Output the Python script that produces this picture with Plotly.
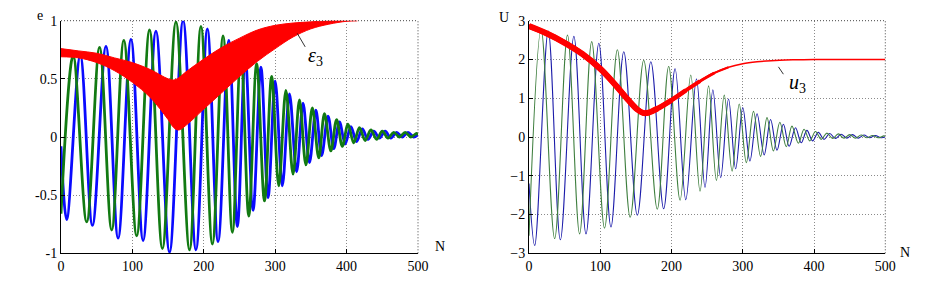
import plotly.graph_objects as go

# ---------------- data ----------------
# extrema positions (N) of the green and blue oscillating signals
green_N = [0, 17, 36, 54, 71, 88, 106, 124, 142, 161,
           180, 196, 212, 227, 240, 252, 263, 274, 285, 295,
           305, 315, 325, 334, 343, 352, 361, 369, 378, 386,
           394, 402, 410, 418, 426, 434, 442, 450, 458, 466,
           474, 482, 490, 498, 500]
blue_N = [0, 8, 27, 44, 63, 80, 98, 115, 133, 152,
          171, 189, 205, 220, 235, 247, 258, 269, 280, 290,
          300, 310, 320, 330, 339, 348, 357, 365, 374, 382,
          390, 398, 406, 414, 422, 430, 438, 446, 454, 462,
          470, 478, 486, 494, 500]

# left panel (e)
e_green = [-0.66, 0.70, -0.73, 0.77, -0.80, 0.83, -0.85, 0.92, -0.96, 0.99,
           -0.97, 0.95, -0.92, 0.87, -0.82, 0.75, -0.68, 0.63, -0.55, 0.52,
           -0.42, 0.40, -0.32, 0.32, -0.24, 0.25, -0.18, 0.20, -0.12, 0.15,
           -0.08, 0.11, -0.05, 0.08, -0.03, 0.06, -0.02, 0.05, -0.01, 0.04,
           0.00, 0.04, 0.00, 0.03, 0.02]
e_blue = [-0.08, -0.71, 0.70, -0.76, 0.78, -0.87, 0.84, -0.89, 0.91, -0.99,
          1.00, -0.97, 0.93, -0.90, 0.83, -0.77, 0.70, -0.63, 0.60, -0.52,
          0.48, -0.42, 0.37, -0.30, 0.29, -0.22, 0.23, -0.16, 0.18, -0.10,
          0.13, -0.06, 0.09, -0.04, 0.07, -0.02, 0.05, -0.01, 0.05, -0.01,
          0.04, 0.00, 0.04, 0.00, 0.02]

# epsilon_3 band (upper / lower edge)
band_N = [0, 25, 50, 75, 100, 125, 150, 158, 165, 175,
          200, 225, 250, 275, 300, 325, 350, 375, 400, 415]
band_top = [0.76, 0.74, 0.72, 0.68, 0.64, 0.58, 0.50, 0.49, 0.51, 0.56,
            0.67, 0.77, 0.85, 0.92, 0.96, 0.98, 0.99, 1.00, 1.00, 1.00]
band_bottom = [0.69, 0.68, 0.64, 0.57, 0.47, 0.34, 0.15, 0.08, 0.06, 0.10,
               0.24, 0.38, 0.52, 0.65, 0.76, 0.86, 0.93, 0.97, 0.995, 1.00]

# right panel (U)
u_green = [-2.55, 2.78, -2.62, 2.63, -2.50, 2.46, -2.35, 2.25, -2.07, 1.98,
           -1.86, 1.82, -1.63, 1.60, -1.40, 1.32, -1.12, 1.08, -0.88, 0.85,
           -0.66, 0.66, -0.50, 0.50, -0.36, 0.38, -0.25, 0.28, -0.16, 0.20,
           -0.10, 0.14, -0.06, 0.10, -0.04, 0.08, -0.03, 0.06, -0.03, 0.05,
           -0.02, 0.04, -0.02, 0.03, 0.02]
u_blue = [-1.20, -2.80, 2.73, -2.65, 2.60, -2.50, 2.42, -2.32, 2.20, -2.02,
          1.94, -1.85, 1.76, -1.62, 1.50, -1.30, 1.22, -1.05, 0.98, -0.82,
          0.76, -0.62, 0.60, -0.46, 0.45, -0.34, 0.33, -0.24, 0.24, -0.15,
          0.17, -0.10, 0.12, -0.06, 0.09, -0.04, 0.07, -0.03, 0.06, -0.03,
          0.05, -0.02, 0.04, -0.02, 0.00]

u3_N = [0, 25, 50, 75, 100, 120, 140, 152, 160, 168, 180, 200,
        220, 240, 260, 280, 300, 320, 340, 370, 400, 450, 500]
u3 = [2.86, 2.67, 2.43, 2.14, 1.76, 1.37, 0.94, 0.71, 0.62, 0.63, 0.73, 0.95,
      1.20, 1.44, 1.65, 1.80, 1.89, 1.94, 1.97, 1.99, 2.00, 2.00, 2.00]

x_ticks = [0, 100, 200, 300, 400, 500]
e_ticks = [-1, -0.5, 0, 0.5, 1]
u_ticks = [-3, -2, -1, 0, 1, 2, 3]

# ---------------- figure ----------------
BLUE = "#0a0aff"
GREEN = "#127a12"
RED = "#ff0000"
FONT = "Liberation Serif, DejaVu Serif, Times New Roman, serif"
W, H, OFF = 929, 284, 8   # page body margin offsets the figure by 8 px


def px_x(p):
    return (p - OFF) / W


def px_y(p):
    return 1 - (p - OFF) / H


fig = go.Figure()

# left panel
fig.add_trace(go.Scatter(x=blue_N, y=e_blue, mode="lines", line=dict(color=BLUE, width=2.8, shape="spline"),
                         xaxis="x", yaxis="y", showlegend=False))
fig.add_trace(go.Scatter(x=green_N, y=e_green, mode="lines", line=dict(color=GREEN, width=2.8, shape="spline"),
                         xaxis="x", yaxis="y", showlegend=False))
fig.add_trace(go.Scatter(x=band_N, y=band_bottom, mode="lines", line=dict(color=RED, width=1, shape="spline"),
                         xaxis="x", yaxis="y", showlegend=False))
fig.add_trace(go.Scatter(x=band_N, y=band_top, mode="lines", line=dict(color=RED, width=1, shape="spline"),
                         fill="tonexty", fillcolor=RED, xaxis="x", yaxis="y", showlegend=False))

# right panel
fig.add_trace(go.Scatter(x=blue_N, y=u_blue, mode="lines", line=dict(color="#1c1caa", width=1.1, shape="spline"),
                         xaxis="x2", yaxis="y2", showlegend=False))
fig.add_trace(go.Scatter(x=green_N, y=u_green, mode="lines", line=dict(color="#3f7f3f", width=1.1, shape="spline"),
                         xaxis="x2", yaxis="y2", showlegend=False))
# the u3 curve gets thinner along N: draw it in overlapping pieces of decreasing width
segments = [(0, len(u3_N), 1.5), (0, 16, 2.2), (0, 15, 3.0), (0, 14, 3.8),
            (0, 13, 4.6), (0, 12, 5.3), (0, 11, 6.0)]
for a, b, w in segments:
    fig.add_trace(go.Scatter(x=u3_N[a:b], y=u3[a:b], mode="lines",
                             line=dict(color=RED, width=w, shape="spline"),
                             xaxis="x2", yaxis="y2", showlegend=False))

xdom1 = [px_x(61), px_x(418)]
xdom2 = [px_x(529), px_x(885.3)]
ydom = [px_y(253.3), px_y(20.7)]

axis_common = dict(showgrid=True, gridcolor="#8a8a8a", griddash="1px,2px", gridwidth=1,
                   showline=True, linecolor="black", linewidth=1,
                   ticks="inside", ticklen=4, tickcolor="black",
                   tickfont=dict(family=FONT, size=14, color="black"),
                   zeroline=False, automargin=False)

fig.update_layout(
    width=W, height=H, template="none",
    paper_bgcolor="white", plot_bgcolor="white",
    font=dict(family=FONT),
    margin=dict(l=0, r=0, t=0, b=0),
    xaxis=dict(domain=xdom1, range=[0, 500], tickvals=x_ticks, anchor="y", **axis_common),
    yaxis=dict(domain=ydom, range=[-1, 1], tickvals=e_ticks,
               ticktext=["-1", "-0.5", "0", "0.5", "1"], anchor="x", **axis_common),
    xaxis2=dict(domain=xdom2, range=[0, 500], tickvals=x_ticks, anchor="y2", **axis_common),
    yaxis2=dict(domain=ydom, range=[-3, 3], tickvals=u_ticks, anchor="x2", **axis_common),
)

# dotted top / right borders
for xr, yr in (("x domain", "y domain"), ("x2 domain", "y2 domain")):
    fig.add_shape(type="line", xref=xr, yref=yr, x0=0, x1=1, y0=1, y1=1,
                  line=dict(color="#444444", width=1, dash="1px,2px"))
    fig.add_shape(type="line", xref=xr, yref=yr, x0=1, x1=1, y0=0, y1=1,
                  line=dict(color="#444444", width=1, dash="1px,2px"))

# curve labels with short pointer lines
fig.add_shape(type="line", xref="x", yref="y", x0=331, y0=0.89, x1=342, y1=0.775,
              line=dict(color="black", width=0.8))
fig.add_annotation(x=356, y=0.69, xref="x", yref="y", text="<i>ε</i><sub>3</sub>",
                   showarrow=False, xanchor="center", yanchor="middle",
                   font=dict(family=FONT, size=20, color="black"))
fig.add_shape(type="line", xref="x2", yref="y2", x0=350, y0=1.81, x1=357, y1=1.62,
              line=dict(color="black", width=0.8))
fig.add_annotation(x=377, y=1.39, xref="x2", yref="y2", text="<i>u</i><sub>3</sub>",
                   showarrow=False, xanchor="center", yanchor="middle",
                   font=dict(family=FONT, size=20, color="black"))

# axis names
for txt, x, y in (("e", 40, 16), ("U", 504, 18), ("N", 440, 246), ("N", 905, 252)):
    fig.add_annotation(x=px_x(x), y=px_y(y), xref="paper", yref="paper", text=txt,
                       showarrow=False, xanchor="center", yanchor="middle",
                       font=dict(family=FONT, size=14, color="black"))

fig.write_html("out.html")
